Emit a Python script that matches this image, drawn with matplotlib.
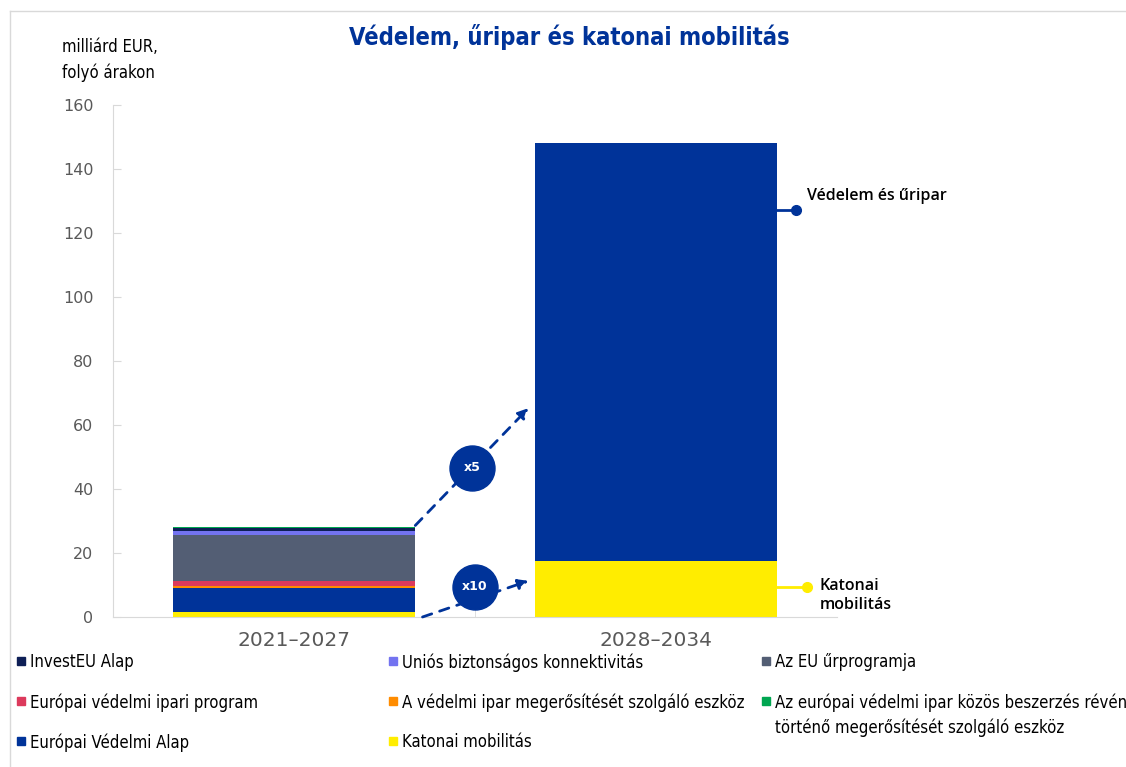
import matplotlib.pyplot as plt
from matplotlib.patches import Rectangle

# data (milliard EUR)
periods = ['2021\u20132027', '2028\u20132034']

series = ['Katonai mobilitás', 'Európai Védelmi Alap',
          'A védelmi ipar megerősítését szolgáló eszköz', 'Európai védelmi ipari program',
          'Az EU űrprogramja', 'Uniós biztonságos konnektivitás', 'InvestEU Alap',
          'Az európai védelmi ipar közös beszerzés révén\ntörténő megerősítését szolgáló eszköz']
colors = ['#FFED00', '#003399', '#FF8C00', '#DC3A5C',
          '#535E74', '#7373F0', '#0E1F56', '#00A651']
values_2021 = [1.7, 7.4, 0.5, 1.5, 14.4, 1.3, 0.9, 0.4]

mobility_2028 = 17.4
defence_space_2028 = 130.7

multipliers = ['x5', 'x10']

blue = '#003399'
grey = '#595959'
cond = dict(family='DejaVu Sans', stretch='condensed')

fig = plt.figure(figsize=(11.26, 7.67), dpi=100)
ax = fig.add_axes([113 / 1126, 150 / 767, 724 / 1126, 512 / 767])

w = 0.666
bottom = 0
for v, c in zip(values_2021, colors):
    ax.bar(0, v, width=w, bottom=bottom, color=c, linewidth=0)
    bottom += v
total_2021 = bottom

ax.bar(1, mobility_2028, width=w, color=colors[0], linewidth=0)
ax.bar(1, defence_space_2028, width=w, bottom=mobility_2028, color=blue, linewidth=0)

ax.set_xlim(-0.5, 1.5)
ax.set_ylim(0, 160)
ax.set_yticks(range(0, 161, 20))
ax.set_xticks([0, 1])
ax.set_xticklabels(periods, fontsize=14.5, color=grey)
ax.set_xticks([0.5], minor=True)
ax.tick_params(axis='x', which='major', length=0, pad=10)
ax.tick_params(axis='x', which='minor', direction='in', length=6, color='#d9d9d9')
ax.tick_params(axis='y', direction='in', length=6, color='#d9d9d9', labelsize=11.5,
               labelcolor=grey, pad=14)
for s in ['top', 'right']:
    ax.spines[s].set_visible(False)
for s in ['left', 'bottom']:
    ax.spines[s].set_color('#d9d9d9')

# growth arrows
arrow_kw = dict(arrowstyle='-|>,head_length=0.6,head_width=0.3', color=blue, lw=2,
                linestyle=(0, (3.5, 3)), shrinkA=0, shrinkB=0)
ax.annotate('', xy=(0.648, 65.3), xytext=(0.335, total_2021 + 0.5), arrowprops=arrow_kw)
ax.annotate('', xy=(0.648, 11.3), xytext=(0.355, 0), arrowprops=arrow_kw)
ax.scatter([0.493, 0.5], [46.6, 9.4], s=1050, color=blue, zorder=5)
ax.text(0.493, 46.6, multipliers[0], color='white', fontsize=9, fontweight='bold',
        ha='center', va='center', zorder=6)
ax.text(0.5, 9.4, multipliers[1], color='white', fontsize=9, fontweight='bold',
        ha='center', va='center', zorder=6)

# labels on the right
ax.plot([1.333, 1.388], [127.2, 127.2], color=blue, lw=2, clip_on=False)
ax.plot([1.388], [127.2], 'o', color=blue, ms=7, clip_on=False)
ax.text(1.416, 131.6, 'Védelem és űripar', fontsize=11.5, fontweight='semibold',
        family='Open Sans', va='center', ha='left')
ax.plot([1.333, 1.417], [9.4, 9.4], color=colors[0], lw=2, clip_on=False)
ax.plot([1.417], [9.4], 'o', color=colors[0], ms=7, clip_on=False)
ax.text(1.452, 6.7, 'Katonai\nmobilitás', fontsize=11.5, fontweight='semibold',
        family='Open Sans', va='center', ha='left', linespacing=1.3)

# title and unit
fig.text(569 / 1126, 1 - 37 / 767, 'Védelem, űripar és katonai mobilitás', **cond,
         fontsize=17, fontweight='bold', color=blue, ha='center', va='center')
fig.text(62 / 1126, 1 - 38 / 767, 'milliárd EUR,\nfolyó árakon', **cond,
         fontsize=12, va='top', ha='left', linespacing=1.55)

# frame lines
fig.add_artist(plt.Line2D([10 / 1126, 1], [1 - 11 / 767, 1 - 11 / 767], color='#d9d9d9', lw=1))
fig.add_artist(plt.Line2D([10 / 1126, 10 / 1126], [0, 1 - 11 / 767], color='#d9d9d9', lw=1))

# legend, laid out in a 3-column grid
legend_order = [6, 5, 4, 3, 2, 7, 1, 0]
col_x = [17, 389, 762]
row_y = [661, 701, 741]
for i, k in enumerate(legend_order):
    r, c = divmod(i, 3)
    x, y = col_x[c], row_y[r]
    fig.add_artist(Rectangle((x / 1126, 1 - (y + 4) / 767), 8 / 1126, 8 / 767,
                             color=colors[k], transform=fig.transFigure))
    fig.text((x + 13) / 1126, 1 - (y - 8) / 767, series[k], **cond, fontsize=12,
             va='top', ha='left', linespacing=1.5)

fig.savefig('out.png', dpi=100)
